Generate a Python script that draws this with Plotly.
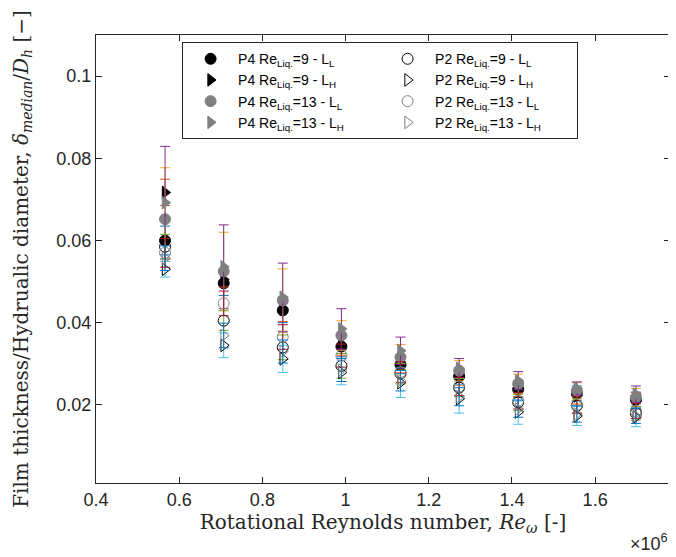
import plotly.graph_objects as go

# Rotational Reynolds number values
re_omega = [5.66e5, 7.07e5, 8.49e5, 9.90e5, 1.132e6, 1.273e6, 1.415e6, 1.556e6, 1.698e6]

# Film thickness / hydraulic diameter (median) and error bars
p4_9_LL = [0.0600, 0.0496, 0.0430, 0.0342, 0.0298, 0.0270, 0.0238, 0.0228, 0.0213]
p4_9_LL_err = [0.0035, 0.0030, 0.0030, 0.0025, 0.0022, 0.0020, 0.0020, 0.0018, 0.0018]

p4_9_LH = [0.0717, 0.0505, 0.0433, 0.0346, 0.0300, 0.0268, 0.0240, 0.0222, 0.0210]
p4_9_LH_err = [0.0032, 0.0018, 0.0030, 0.0025, 0.0022, 0.0020, 0.0020, 0.0020, 0.0020]

p4_13_LL = [0.0652, 0.0525, 0.0454, 0.0369, 0.0316, 0.0283, 0.0251, 0.0234, 0.0218]
p4_13_LL_err = [0.0125, 0.0095, 0.0077, 0.0036, 0.0031, 0.0025, 0.0024, 0.0020, 0.0022]

p4_13_LH = [0.0692, 0.0536, 0.0462, 0.0385, 0.0332, 0.0289, 0.0259, 0.0240, 0.0226]
p4_13_LH_err = [0.0137, 0.0102, 0.0083, 0.0049, 0.0033, 0.0024, 0.0022, 0.0016, 0.0020]

p2_9_LL = [0.0585, 0.0405, 0.0340, 0.0295, 0.0276, 0.0242, 0.0206, 0.0198, 0.0180]
p2_9_LL_err = [0.0030, 0.0024, 0.0030, 0.0030, 0.0025, 0.0022, 0.0020, 0.0018, 0.0017]

p2_9_LH = [0.0530, 0.0345, 0.0312, 0.0279, 0.0254, 0.0215, 0.0183, 0.0173, 0.0170]
p2_9_LH_err = [0.0019, 0.0030, 0.0033, 0.0030, 0.0036, 0.0035, 0.0030, 0.0023, 0.0023]

p2_13_LL = [0.0570, 0.0447, 0.0365, 0.0320, 0.0280, 0.0245, 0.0210, 0.0200, 0.0185]
p2_13_LL_err = [0.0035, 0.0030, 0.0030, 0.0028, 0.0025, 0.0022, 0.0020, 0.0020, 0.0018]

p2_13_LH = [0.0557, 0.0369, 0.0330, 0.0285, 0.0259, 0.0220, 0.0190, 0.0178, 0.0173]
p2_13_LH_err = [0.0030, 0.0030, 0.0028, 0.0028, 0.0025, 0.0022, 0.0020, 0.0020, 0.0018]

x_tickvals = [4e5, 6e5, 8e5, 1e6, 1.2e6, 1.4e6, 1.6e6]
x_ticktext = ["0.4", "0.6", "0.8", "1", "1.2", "1.4", "1.6"]
y_tickvals = [0.02, 0.04, 0.06, 0.08, 0.1]
y_ticktext = ["0.02", "0.04", "0.06", "0.08", "0.1"]

series = [
    ("P4 Re<sub>Liq.</sub>=9 - L<sub>L</sub>", p4_9_LL, p4_9_LL_err, "#0072BD", "circle", "black", 1),
    ("P4 Re<sub>Liq.</sub>=9 - L<sub>H</sub>", p4_9_LH, p4_9_LH_err, "#D95319", "triangle-right", "black", 3),
    ("P4 Re<sub>Liq.</sub>=13 - L<sub>L</sub>", p4_13_LL, p4_13_LL_err, "#EDB120", "circle", "#808080", 5),
    ("P4 Re<sub>Liq.</sub>=13 - L<sub>H</sub>", p4_13_LH, p4_13_LH_err, "#7E2F8E", "triangle-right", "#808080", 7),
    ("P2 Re<sub>Liq.</sub>=9 - L<sub>L</sub>", p2_9_LL, p2_9_LL_err, "#77AC30", "circle-open", "black", 2),
    ("P2 Re<sub>Liq.</sub>=9 - L<sub>H</sub>", p2_9_LH, p2_9_LH_err, "#4DBEEE", "triangle-right-open", "black", 4),
    ("P2 Re<sub>Liq.</sub>=13 - L<sub>L</sub>", p2_13_LL, p2_13_LL_err, "#A2142F", "circle-open", "#808080", 6),
    ("P2 Re<sub>Liq.</sub>=13 - L<sub>H</sub>", p2_13_LH, p2_13_LH_err, "#0072BD", "triangle-right-open", "#808080", 8),
]

fig = go.Figure()
for name, y, err, ecol, sym, mcol, rank in series:
    fig.add_trace(go.Scatter(
        x=re_omega, y=y, mode="markers", name=name, legendrank=rank,
        marker=dict(symbol=sym, size=11, color=mcol, line=dict(color=mcol, width=1)),
        error_y=dict(type="data", array=err, visible=True, color=ecol, thickness=1, width=5),
    ))

axis_color = "#262626"
fig.update_layout(
    width=676, height=557,
    margin=dict(l=88, r=14, t=27, b=82),
    paper_bgcolor="white", plot_bgcolor="white",
    font=dict(family="Liberation Sans", size=18, color=axis_color),
    showlegend=True,
    legend=dict(
        orientation="h", x=0.15, y=0.984, xanchor="left", yanchor="top",
        entrywidth=137, itemwidth=45, bgcolor="white", bordercolor=axis_color, borderwidth=1,
        font=dict(family="Liberation Sans", size=14, color="black"),
        tracegroupgap=0, itemsizing="trace",
    ),
    xaxis=dict(
        range=[4e5, 1.78e6], tickvals=x_tickvals, ticktext=x_ticktext,
        showline=True, linecolor=axis_color, linewidth=1, mirror="ticks",
        ticks="inside", ticklen=6, tickcolor=axis_color, showgrid=False, zeroline=False,
        title=dict(text="Rotational Reynolds number, <i>Re</i><sub><i>ω</i></sub> [-]",
                   font=dict(family="DejaVu Serif", size=20, color=axis_color), standoff=2),
    ),
    yaxis=dict(
        range=[0.001, 0.11], tickvals=y_tickvals, ticktext=y_ticktext,
        showline=True, linecolor=axis_color, linewidth=1, mirror="ticks",
        ticks="inside", ticklen=6, tickcolor=axis_color, showgrid=False, zeroline=False,
        title=dict(text="Film thickness/Hydrualic diameter, <i>δ</i><sub><i>median</i></sub>/<i>D</i><sub><i>h</i></sub> [−]",
                   font=dict(family="DejaVu Serif", size=20, color=axis_color), standoff=22),
    ),
)
fig.add_annotation(
    x=1.0, y=0, xref="paper", yref="paper", xanchor="right", yanchor="top",
    yshift=-46, showarrow=False, text="×10<sup>6</sup>",
    font=dict(family="Liberation Sans", size=18, color=axis_color),
)
fig.write_html("out.html")
